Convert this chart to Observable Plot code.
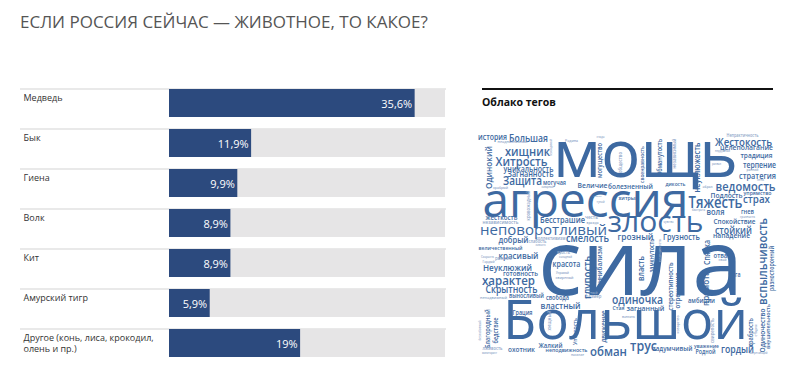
<!DOCTYPE html>
<html><head><meta charset="utf-8">
<script src="https://cdn.jsdelivr.net/npm/d3@7"></script>
<script src="https://cdn.jsdelivr.net/npm/@observablehq/plot@0.6"></script>
<style>
html,body{margin:0;padding:0;background:#fff;}
body{width:800px;height:377px;overflow:hidden;position:relative;font-family:"Open Sans",sans-serif;}
#title{position:absolute;left:20px;top:10px;font-size:17px;color:#555;white-space:nowrap;}
#bars{position:absolute;left:0;top:80px;}
#cloudhead{position:absolute;left:482px;top:88px;width:291px;border-top:2px solid #111;}
#cloudhead span{display:block;margin-top:5px;font-weight:700;font-size:10.5px;color:#111;}
#cloud{position:absolute;left:470px;top:115px;}
#cloud svg{overflow:visible;}
</style></head>
<body>
<div id="title">ЕСЛИ РОССИЯ СЕЙЧАС — ЖИВОТНОЕ, ТО КАКОЕ?</div>
<div id="bars"></div>
<div id="cloudhead"><span>Облако тегов</span></div>
<div id="cloud"></div>
<script>
// ---- bar chart data ----
const categories = ["Медведь", "Бык", "Гиена", "Волк", "Кит", "Амурский тигр", "Другое (конь, лиса, крокодил,\nолень и пр.)"];
const shares = [35.6, 11.9, 9.9, 8.9, 8.9, 5.9, 19];
const shareLabels = ["35,6%", "11,9%", "9,9%", "8,9%", "8,9%", "5,9%", "19%"];
const scaleMax = 40;

// ---- word cloud data: word, centre x, centre y, word length, rotation ----
const cloudWords = [
  ["мощь", 645, 156, 185, 0],
  ["агрессия", 585, 201, 206, 0],
  ["злость", 655, 222, 96, 0],
  ["сила", 640, 265, 205, 0],
  ["Большой", 625, 321, 245, 0],
  ["история", 492, 137, 29, 0],
  ["Большая", 528, 138, 39, 0],
  ["неоднозначный", 512, 141, 30, 0],
  ["хищник", 527, 151, 45, 0],
  ["Хитрость", 521, 161, 52, 0],
  ["уникальность", 528, 169, 50, 0],
  ["Загнанность", 530, 174, 46, 0],
  ["Защита", 522, 181, 39, 0],
  ["могучая", 554, 182, 23, 0],
  ["Одинокий", 488, 167, 43, -90],
  ["необходимый", 551, 147, 17, -90],
  ["храбрый", 500, 187, 15, 0],
  ["коварный", 547, 187, 12, 0],
  ["Родина", 571, 140, 13, 0],
  ["стадо", 600, 136, 8, 0],
  ["могущество", 599, 160, 35, -90],
  ["общество", 620, 162, 21, -90],
  ["Величие", 592, 185, 30, 0],
  ["болезненный", 630, 186, 45, 0],
  ["своенравность", 642, 164, 37, -90],
  ["Обманутость", 659, 157, 37, -90],
  ["независимый", 674, 153, 30, -90],
  ["неуклюжесть", 697, 167, 50, -90],
  ["дикость", 675, 184, 20, 0],
  ["образ", 707, 186, 10, 0],
  ["Непрактичность", 742, 135, 32, 0],
  ["Жестокость", 743, 142, 57, 0],
  ["целеполагание", 746, 147, 53, 0],
  ["недружный", 722, 151, 15, 0],
  ["традиция", 756, 155, 32, 0],
  ["развал", 716, 164, 9, 0],
  ["терпение", 759, 165, 33, 0],
  ["ранний", 752, 169, 12, 0],
  ["стратегия", 757, 176, 37, 0],
  ["лень", 760, 179, 7, 0],
  ["ведомость", 745, 186, 60, 0],
  ["Подлость", 726, 195, 32, 0],
  ["упрямство", 757, 193, 28, 0],
  ["Тяжесть", 715, 203, 54, 0],
  ["страх", 756, 199, 27, 0],
  ["быстрота", 698, 209, 13, 0],
  ["воля", 715, 212, 18, 0],
  ["гнев", 747, 211, 13, 0],
  ["грозность", 747, 216, 15, 0],
  ["чувство", 668, 222, 10, 0],
  ["Спокойствие", 734, 221, 42, 0],
  ["стойкий", 733, 230, 37, 0],
  ["нападение", 731, 235, 37, 0],
  ["Грузность", 681, 237, 37, 0],
  ["грозный", 635, 236, 36, 0],
  ["Спячка", 707, 252, 25, -90],
  ["замкнутость", 652, 255, 34, -90],
  ["нелюдимость", 659, 250, 23, -90],
  ["отвага", 723, 255, 20, 0],
  ["свой", 722, 259, 8, 0],
  ["рога", 734, 275, 12, 0],
  ["вспыльчивость", 762, 261, 87, -90],
  ["разносторонний", 772, 268, 45, -90],
  ["Одиночество", 762, 330, 44, -90],
  ["внушительность", 768, 326, 45, -90],
  ["власть", 641, 268, 25, -90],
  ["стереотипность", 670, 286, 48, -90],
  ["отрешение", 677, 290, 36, -90],
  ["прямота", 705, 288, 35, -90],
  ["амбиции", 701, 300, 27, 0],
  ["храбрость", 750, 332, 29, -90],
  ["стадия", 755, 330, 12, -90],
  ["свирепость", 712, 330, 25, -90],
  ["коварство", 677, 324, 18, -90],
  ["гордый", 737, 349, 33, 0],
  ["оберегающий", 758, 353, 18, 0],
  ["задумчивый", 672, 348, 40, 0],
  ["уважение", 706, 346, 25, 0],
  ["Родной", 705, 352, 20, 0],
  ["трус", 643, 346, 27, 0],
  ["обман", 608, 351, 37, 0],
  ["одиночка", 637, 300, 51, 0],
  ["загнанный", 645, 308, 38, 0],
  ["Стая", 618, 308, 12, 0],
  ["вонзить", 628, 316, 13, 0],
  ["умный", 591, 292, 12, 0],
  ["размер", 593, 296, 16, 0],
  ["властный", 560, 305, 40, 0],
  ["выносливый", 526, 296, 35, 0],
  ["свобода", 557, 297, 23, 0],
  ["Скрытность", 511, 289, 52, 0],
  ["характер", 508, 280, 53, 0],
  ["Неуклюжий", 507, 267, 49, 0],
  ["готовность", 520, 273, 35, 0],
  ["красота", 566, 264, 28, 0],
  ["Упрямый", 562, 272, 13, 0],
  ["свирепый", 564, 277, 18, 0],
  ["Грация", 522, 312, 20, 0],
  ["неподвижный", 493, 297, 27, 0],
  ["Благородный", 487, 328, 39, -90],
  ["бедствие", 495, 330, 26, -90],
  ["беззаботный", 479, 330, 20, -90],
  ["лживость", 492, 348, 20, 0],
  ["охотник", 521, 349, 27, 0],
  ["Жалкий", 550, 345, 24, 0],
  ["неподвижность", 566, 350, 42, 0],
  ["милитарист", 489, 353, 15, 0],
  ["насилие", 577, 354, 13, 0],
  ["хищный", 549, 320, 20, -90],
  ["Упертость", 575, 331, 27, -90],
  ["движение", 603, 326, 32, -90],
  ["глупость", 587, 277, 43, -90],
  ["Каннибализм", 599, 268, 45, -90],
  ["ярость", 563, 252, 13, 0],
  ["холодный", 565, 257, 13, 0],
  ["коллективизм", 550, 238, 30, 0],
  ["смелость", 587, 238, 43, 0],
  ["неповоротливый", 543, 230, 127, 0],
  ["Бесстрашие", 562, 220, 45, 0],
  ["жесткость", 501, 217, 32, 0],
  ["независимость", 500, 222, 36, 0],
  ["честь", 591, 217, 13, 0],
  ["вражда", 592, 222, 12, 0],
  ["добрый", 513, 240, 30, 0],
  ["слабость", 537, 241, 18, 0],
  ["ловкость", 540, 245, 10, 0],
  ["величественный", 500, 248, 44, 0],
  ["красивый", 518, 256, 40, 0],
  ["Скорость", 487, 256, 13, 0],
  ["Гордый", 488, 261, 12, 0],
  ["рвение", 503, 258, 17, 0],
  ["кровожадный", 528, 205, 30, -90],
  ["хитрый", 628, 198, 20, 0],
  ["тупой", 600, 201, 8, 0],
  ["лишение", 597, 196, 8, 0]
];

// ---- bar chart ----
const rows = categories.map((c, i) => ({cat: c, v: shares[i], label: shareLabels[i], max: scaleMax}));
const barBlue = "#2c4a7e";
const bars = Plot.plot({
  width: 446, height: 290,
  marginLeft: 20, marginRight: 0, marginTop: 8, marginBottom: 2,
  style: {fontFamily: "'Open Sans', sans-serif", background: "transparent"},
  x: {domain: [0, scaleMax], range: [169, 445], axis: null},
  y: {domain: categories, axis: null, padding: 0},
  marks: [
    Plot.ruleY(rows, {y: "cat", dy: -19.5, stroke: "#e2e2e2", strokeWidth: 1.5}),
    Plot.barX(rows, {y: "cat", x1: 0, x2: "max", fill: "#e6e5e6", insetTop: 1, insetBottom: 11}),
    Plot.barX(rows, {y: "cat", x: "v", fill: barBlue, insetTop: 1, insetBottom: 11}),
    Plot.text(rows, {y: "cat", text: "cat", frameAnchor: "left", textAnchor: "start", lineAnchor: "top",
      dx: 3, dy: -15, fontSize: 9, lineHeight: 1.22, fill: "#333"}),
    Plot.text(rows, {x: "v", y: "cat", text: "label", textAnchor: "end", dx: -3, dy: -4.5,
      fontSize: 11, fill: "white"})
  ]
});
document.getElementById("bars").append(bars);

// ---- word cloud ----
const ctx = document.createElement("canvas").getContext("2d");
function emWidth(word, weight) {
  ctx.font = `${weight} 100px 'Open Sans'`;
  return ctx.measureText(word).width / 100;
}
const cloudData = cloudWords.map(([word, x, y, len, rot]) => {
  const big = len > 90;
  const squeeze = big ? 1 : 0.86;
  const weight = big ? 400 : 600;
  const size = len / (emWidth(word, weight) * squeeze);
  return {word, x, y, rot, size, squeeze, weight};
});
const cloud = Plot.plot({
  width: 320, height: 260,
  margin: 0,
  style: {fontFamily: "'Open Sans', sans-serif", background: "transparent", overflow: "visible"},
  x: {domain: [470, 790], range: [0, 320], axis: null},
  y: {domain: [115, 375], range: [0, 260], axis: null},
  color: {type: "identity"},
  marks: [
    Plot.text(cloudData, {
      x: "x", y: "y", text: "word", fontSize: "size", rotate: "rot",
      textAnchor: "middle", lineAnchor: "middle",
      fill: d => d.size <= 5.5 ? "#8fa7c9" : "#3d69a1"
    })
  ]
});
// condense glyphs along the reading direction and set weight, as in the source image
d3.select(cloud).selectAll("g[aria-label='text'] text").each(function(i) {
  const d = cloudData[i];
  const t = this.getAttribute("transform") || "";
  this.setAttribute("transform", `${t} scale(${d.squeeze},1)`);
  this.setAttribute("font-weight", d.weight);
});
document.getElementById("cloud").append(cloud);
</script>
</body></html>
